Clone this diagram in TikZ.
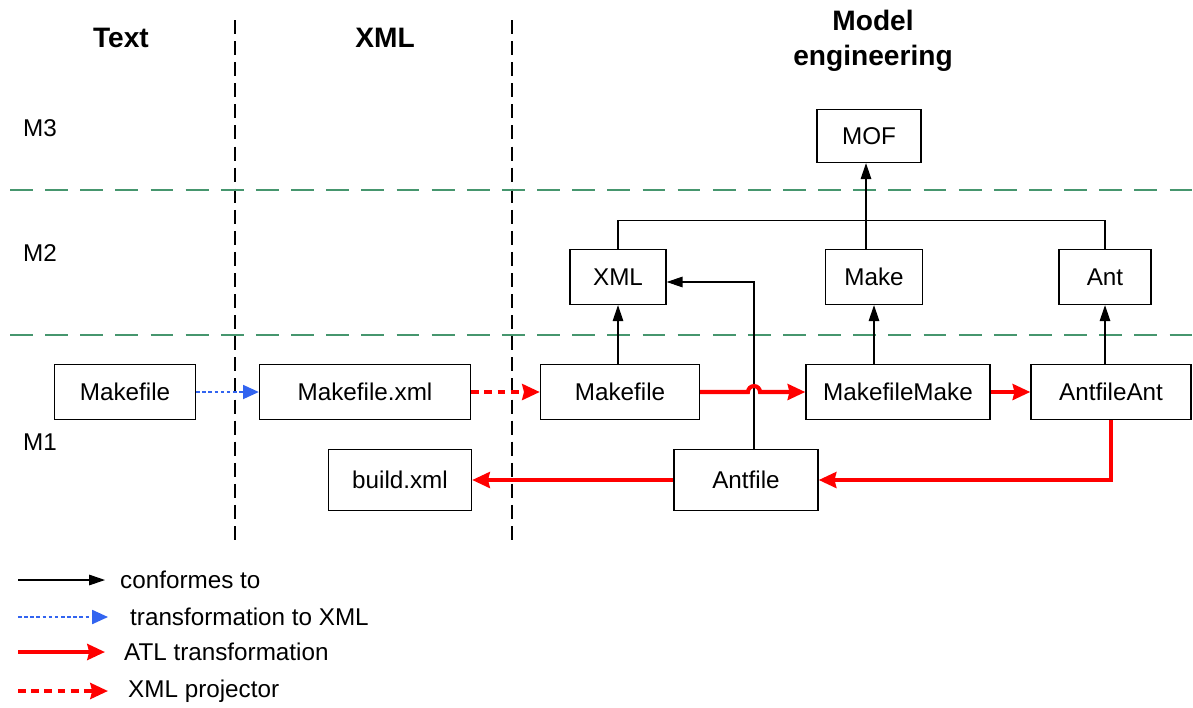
\documentclass[tikz,border=0pt]{standalone}
\usepackage{fontspec}
\setmainfont{Liberation Sans}
\usetikzlibrary{arrows.meta,calc}

\definecolor{divgreen}{RGB}{70,150,110}
\definecolor{xmlblue}{RGB}{50,100,240}

\begin{document}
\begin{tikzpicture}[x=0.02cm, y=-0.02cm,
  font=\fontsize{13.8}{16}\selectfont,
  box/.style={draw, line width=0.8pt, inner sep=0pt, minimum height=1.1cm},
  head/.style={font=\fontsize{16}{20}\selectfont\bfseries, align=center},
  conf/.style={line width=0.6pt, -{Triangle[length=9pt,width=6pt]}},
  toxml/.style={xmlblue, line width=0.9pt, dash pattern=on 2pt off 1.5pt, -{Triangle[length=9pt,width=8pt]}},
  atl/.style={red, line width=2.3pt, -{Stealth[length=10pt,width=9pt,inset=1pt]}},
  proj/.style={red, line width=2.3pt, dash pattern=on 4.5pt off 3pt, -{Stealth[length=10pt,width=9pt,inset=1pt]}},
  divider/.style={line width=0.6pt, dash pattern=on 8pt off 4pt},
  level/.style={divgreen, line width=0.6pt, dash pattern=on 13pt off 7pt}]
  \useasboundingbox (0,0) rectangle (1193,707);

  % columns and levels
  \draw[divider] (235,20) -- (235,540);
  \draw[divider] (512,20) -- (512,540);
  \draw[level] (10,190) -- (1193,190);
  \draw[level] (10,335) -- (1193,335);

  \node[head] (hText) at (121,38) {Text};
  \node[head] (hXml) at (385,38) {XML};
  \node[head] (hModel) at (873,41) {Model\\engineering};
  \node (lM3) at (40,128) {M3};
  \node (lM2) at (40,253) {M2};
  \node (lM1) at (40,442) {M1};

  % M3 / M2
  \node[box, minimum width=2.08cm, minimum height=1.06cm] (mof) at (869,136) {MOF};
  \node[box, minimum width=1.92cm] (xmlmm) at (618,277) {XML};
  \node[box, minimum width=1.94cm] (makemm) at (874,277) {Make};
  \node[box, minimum width=1.84cm] (antmm) at (1105,277) {Ant};

  % M1
  \node[box, minimum width=2.82cm] (mkText) at (125,392) {Makefile};
  \node[box, minimum width=4.22cm] (mkXml) at (365,392) {Makefile.xml};
  \node[box, minimum width=3.18cm] (mkModel) at (620,392) {Makefile};
  \node[box, minimum width=3.68cm] (mkMake) at (898,392) {MakefileMake};
  \node[box, minimum width=3.20cm] (antAnt) at (1111,392) {AntfileAnt};
  \node[box, minimum width=2.86cm, minimum height=1.22cm] (buildXml) at (400,480) {build.xml};
  \node[box, minimum width=2.88cm, minimum height=1.22cm] (antfile) at (746,480) {Antfile};

  % conformes to
  \coordinate (join) at ($(mof.south)+(-3,57)$);
  \draw[line width=0.6pt] (xmlmm.north) |- (join);
  \draw[line width=0.6pt] (antmm.north) |- (join);
  \draw[line width=0.6pt] (makemm.north -| join) -- (join);
  \draw[conf] (join) -- (mof.south -| join);
  \draw[conf] (mkModel.north -| xmlmm.south) -- (xmlmm.south);
  \draw[conf] (mkMake.north -| makemm.south) -- (makemm.south);
  \draw[conf] (antAnt.north -| antmm.south) -- (antmm.south);
  \draw[conf] ($(antfile.north)+(8,0)$) |- ($(xmlmm.east)+(0,5)$);

  % transformations
  \draw[toxml] (mkText) -- (mkXml);
  \draw[proj] (mkXml) -- (mkModel);
  \draw[atl] (mkModel.east) -- ($(mkModel.east -| antfile.north)+(2,0)$)
    arc[start angle=180, end angle=0, radius=0.12cm] -- (mkMake.west);
  \draw[atl] (mkMake) -- (antAnt);
  \draw[atl] (antAnt.south) |- (antfile.east);
  \draw[atl] (antfile) -- (buildXml);

  % legend
  \coordinate (lgConf) at (18,580);
  \coordinate (lgXml) at (18,617);
  \coordinate (lgAtl) at (18,652);
  \coordinate (lgProj) at (18,691);
  \draw[conf] (lgConf) -- ++(87,0);
  \draw[toxml] (lgXml) -- ++(90,0);
  \draw[atl] (lgAtl) -- ++(87,0);
  \draw[proj] (lgProj) -- ++(90,0);
  \node[anchor=west] (tConf) at (114,580) {conformes to};
  \node[anchor=west] (tXml) at (124,617) {transformation to XML};
  \node[anchor=west] (tAtl) at (118,652) {ATL transformation};
  \node[anchor=west] (tProj) at (122,691) {XML projector};
\end{tikzpicture}
\end{document}
